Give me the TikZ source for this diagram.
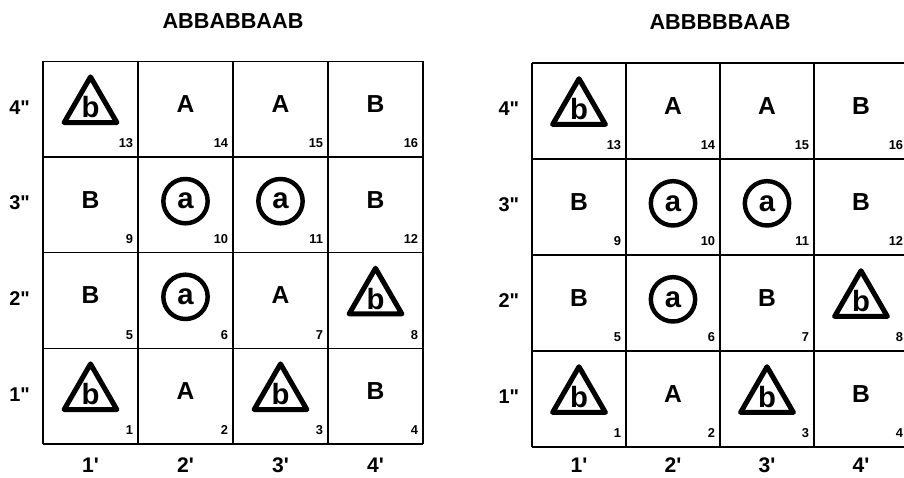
\documentclass[tikz,border=0pt]{standalone}
\usepackage{fontspec}
\setmainfont{Liberation Sans}
\usetikzlibrary{shapes.geometric}
\tikzset{
  gridline/.style={line width=1pt},
  letter/.style={font=\fontsize{21}{21}\selectfont\bfseries, yshift=1.5mm},
  ring/.style={circle, draw, line width=3.8pt, minimum size=1.33cm, inner sep=0pt,
    font=\fontsize{25}{25}\selectfont\bfseries, yshift=1.1mm},
  tri/.style={regular polygon, regular polygon sides=3, draw, line width=4.3pt,
    line join=round, minimum size=1.63cm, inner sep=0pt,
    font=\fontsize{25}{25}\selectfont\bfseries, yshift=.55mm},
  cellno/.style={font=\fontsize{11}{11}\selectfont\bfseries, anchor=base east, inner sep=0pt},
  rowlabel/.style={font=\fontsize{17}{17}\selectfont\bfseries, yshift=.6mm},
  collabel/.style={font=\fontsize{18}{18}\selectfont\bfseries, inner sep=1pt},
  title/.style={font=\fontsize{18.5}{18.5}\selectfont\bfseries},
}
\begin{document}
\begin{tikzpicture}
\useasboundingbox (0,0) rectangle (27.12,14.31);
% Left figure: ABBABBAAB
\begin{scope}[xshift=1.29cm, yshift=0.99cm, x=2.85cm, y=2.87cm]
\foreach \i in {0,...,4} {
  \draw[gridline] (\i,0) -- (\i,4);
  \draw[gridline] (0,\i) -- (4,\i);
}
\node[title] (Ltitle) at (2,4) [yshift=1.215cm] {ABBABBAAB};
\foreach \r in {1,...,4}
  \node[rowlabel] (Lrow\r) at (-.247,\r-.5) {\r\textquotedbl};
\foreach \c in {1,...,4}
  \node[collabel] (Lcol\c) at (\c-.5,-.222) {\c\textquotesingle};
% cells 1..16, bottom row first
\foreach \sty/\txt [count=\n from 0] in {tri/b,letter/A,tri/b,letter/B,
    letter/B,ring/a,letter/A,tri/b, letter/B,ring/a,ring/a,letter/B,
    tri/b,letter/A,letter/A,letter/B} {
  \pgfmathtruncatemacro\col{mod(\n,4)}
  \pgfmathtruncatemacro\row{\n/4}
  \pgfmathtruncatemacro\num{\n+1}
  \node[\sty] (L\num) at (\col+.5,\row+.5) {\txt};
  \node[cellno] (Lno\num) at (\col+1,\row) [xshift=-1.4mm, yshift=2.7mm] {\num};
}
\end{scope}
% Right figure: ABBBBBAAB
\begin{scope}[xshift=15.96cm, yshift=0.90cm, x=2.82cm, y=2.88cm]
\foreach \i in {0,...,4} {
  \draw[gridline] (\i,0) -- (\i,4);
  \draw[gridline] (0,\i) -- (4,\i);
}
\node[title] (Rtitle) at (2,4) [yshift=1.215cm] {ABBBBBAAB};
\foreach \r in {1,...,4}
  \node[rowlabel] (Rrow\r) at (-.247,\r-.5) {\r\textquotedbl};
\foreach \c in {1,...,4}
  \node[collabel] (Rcol\c) at (\c-.5,-.19) {\c\textquotesingle};
% cells 1..16, bottom row first
\foreach \sty/\txt [count=\n from 0] in {tri/b,letter/A,tri/b,letter/B,
    letter/B,ring/a,letter/B,tri/b, letter/B,ring/a,ring/a,letter/B,
    tri/b,letter/A,letter/A,letter/B} {
  \pgfmathtruncatemacro\col{mod(\n,4)}
  \pgfmathtruncatemacro\row{\n/4}
  \pgfmathtruncatemacro\num{\n+1}
  \node[\sty] (R\num) at (\col+.5,\row+.5) {\txt};
  \node[cellno] (Rno\num) at (\col+1,\row) [xshift=-1.4mm, yshift=2.7mm] {\num};
}
\end{scope}
\end{tikzpicture}
\end{document}
